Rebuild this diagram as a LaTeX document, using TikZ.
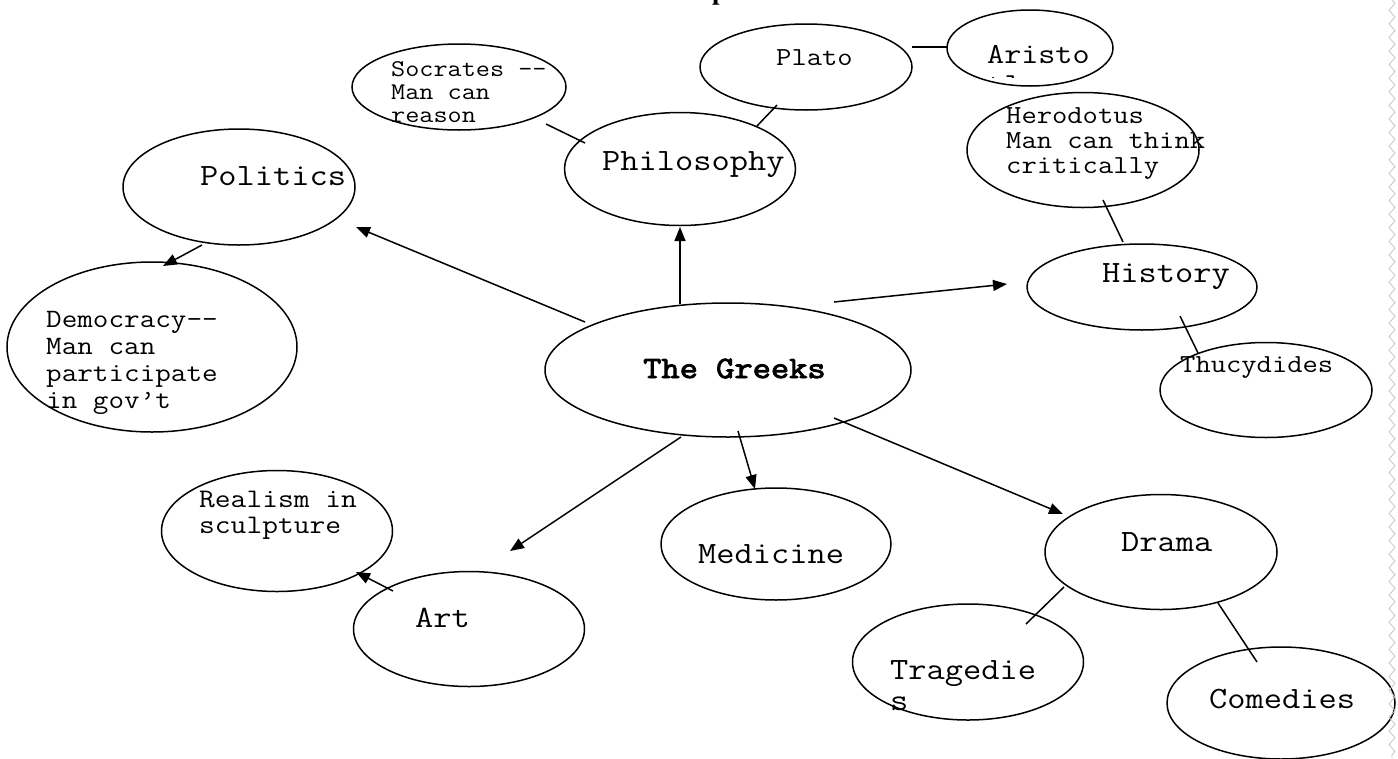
\documentclass[tikz,border=0pt]{standalone}
\usepackage{fontspec}
\setmonofont{Latin Modern Mono}[FakeStretch=1.142857, AutoFakeBold=3]
\newfontfamily\titlefont{Liberation Serif}
\usetikzlibrary{arrows.meta,calc,shapes.geometric,decorations.pathmorphing}
\begin{document}
\begin{tikzpicture}[x=1pt,y=-1pt,
  bub/.style={draw, ellipse, line width=1.5pt, inner sep=0pt},
  big/.style={font=\fontsize{31}{31}\selectfont\ttfamily, anchor=base west, inner sep=0pt},
  mid/.style={font=\fontsize{26}{27}\selectfont\ttfamily, anchor=base west, inner sep=0pt},
  arr/.style={line width=1.5pt, -{Triangle[length=14pt,width=11pt]}},
  con/.style={line width=1.5pt}]
\useasboundingbox (0,0) rectangle (1398,758);

% ellipses
\node[bub, minimum width=231, minimum height=113] (philo) at (680,169) {};
\node[bub, minimum width=212, minimum height=86] (plato) at (806,67) {};
\node[bub, minimum width=166, minimum height=76] (aristo) at (1030,48) {};
\node[bub, minimum width=214, minimum height=86] (socrates) at (459,87) {};
\node[bub, minimum width=232, minimum height=116] (politics) at (239,187) {};
\node[bub, minimum width=290, minimum height=170] (democracy) at (152,347) {};
\node[bub, minimum width=366, minimum height=134] (greeks) at (728,370) {};
\node[bub, minimum width=232, minimum height=115] (herodotus) at (1083,150) {};
\node[bub, minimum width=230, minimum height=86] (history) at (1142,287) {};
\node[bub, minimum width=212, minimum height=95] (thucy) at (1266,390) {};
\node[bub, minimum width=231, minimum height=121] (realism) at (277,531) {};
\node[bub, minimum width=231, minimum height=115] (art) at (469,629) {};
\node[bub, minimum width=230, minimum height=112] (medicine) at (776,544) {};
\node[bub, minimum width=232, minimum height=115] (drama) at (1161,552) {};
\node[bub, minimum width=231, minimum height=116] (tragedies) at (968,662) {};
\node[bub, minimum width=228, minimum height=112] (comedies) at (1281,703) {};

% labels
\node[big] (tphilo) at ($(philo)+(-78,1)$) {Philosophy};
\node[big] (tpolitics) at ($(politics)+(-39,-2)$) {Politics};
\node[big, font=\fontsize{31}{31}\selectfont\ttfamily\bfseries] (tgreeks) at ($(greeks)+(-85,8)$) {The Greeks};
\node[big] (thistory) at ($(history)+(-40,-5)$) {History};
\node[big] (tmedicine) at ($(medicine)+(-78,19)$) {Medicine};
\node[big] (tart) at ($(art)+(-54,-2)$) {Art};
\node[big] (tdrama) at ($(drama)+(-40,-1)$) {Drama};
\node[big] (tcomedies) at ($(comedies)+(-72,5)$) {Comedies};
\node[big] (ttragedies) at ($(tragedies)+(-78,17)$) {\vtop{\hbox{Tragedie}\hbox{s}}};
\node[mid] (tplato) at ($(plato)+(-30,-2)$) {Plato};
\begin{scope}
  \clip (940,0) rectangle (1120,77);
  \node[mid, font=\fontsize{29}{30}\selectfont\ttfamily] (taristo) at ($(aristo)+(-43,15)$) {\vtop{\hbox{Aristo}\hbox{tle}}};
\end{scope}
\node[mid, font=\fontsize{24}{23}\selectfont\ttfamily] (tsocrates) at ($(socrates)+(-68,-11)$) {\vtop{\hbox{Socrates --}\hbox{Man can}\hbox{reason}}};
\node[mid, font=\fontsize{26}{25}\selectfont\ttfamily] (therodotus) at ($(herodotus)+(-77,-27)$) {\vtop{\hbox{Herodotus}\hbox{Man can think}\hbox{critically}}};
\node[mid, font=\fontsize{26.5}{27}\selectfont\ttfamily] (tdemocracy) at ($(democracy)+(-106,-20)$) {\vtop{\hbox{Democracy--}\hbox{Man can}\hbox{participate}\hbox{in gov’t}}};
\node[mid] (tthucy) at ($(thucy)+(-86,-18)$) {Thucydides};
\node[mid, font=\fontsize{26.8}{26}\selectfont\ttfamily] (trealism) at ($(realism)+(-78,-24)$) {\vtop{\hbox{Realism in}\hbox{sculpture}}};

% cut-off title
\node[anchor=base west, inner sep=0pt, font=\titlefont\bfseries\fontsize{27}{27}\selectfont] (title) at (712,-1) {p};

% arrows from The Greeks
\draw[arr] ($(greeks)+(-143,-48)$) -- ($(politics)+(117,40)$);
\draw[arr] ($(greeks)+(-48,-66)$) -- ($(philo)+(0,58)$);
\draw[arr] ($(greeks)+(106,-68)$) -- ($(history)+(-135,-3)$);
\draw[arr] ($(greeks)+(-47,67)$) -- ($(art)+(41,-78)$);
\draw[arr] ($(greeks)+(10,61)$) -- ($(medicine)+(-21,-55)$);
\draw[arr] ($(greeks)+(106,48)$) -- ($(drama)+(-98,-38)$);
\draw[arr] ($(politics)+(-37,58)$) -- ($(democracy)+(11,-81)$);
\draw[arr] ($(art)+(-76,-38)$) -- ($(realism)+(79,41)$);

% plain connectors
\draw[con] ($(socrates)+(87,37)$) -- ($(philo)+(-95,-26)$);
\draw[con] ($(philo)+(77,-43)$) -- ($(plato)+(-29,38)$);
\draw[con] ($(plato)+(106,-20)$) -- ($(aristo)+(-82,-1)$);
\draw[con] ($(herodotus)+(20,50)$) -- ($(history)+(-19,-45)$);
\draw[con] ($(history)+(38,29)$) -- ($(thucy)+(-68,-37)$);
\draw[con] ($(drama)+(-97,35)$) -- ($(tragedies)+(58,-38)$);
\draw[con] ($(drama)+(57,51)$) -- ($(comedies)+(-24,-41)$);

% page edge zigzag
\draw[gray!45, line width=0.8pt, decorate, decoration={zigzag, segment length=13.6pt, amplitude=3pt}] (1392,0) -- (1392,758);
\end{tikzpicture}
\end{document}
